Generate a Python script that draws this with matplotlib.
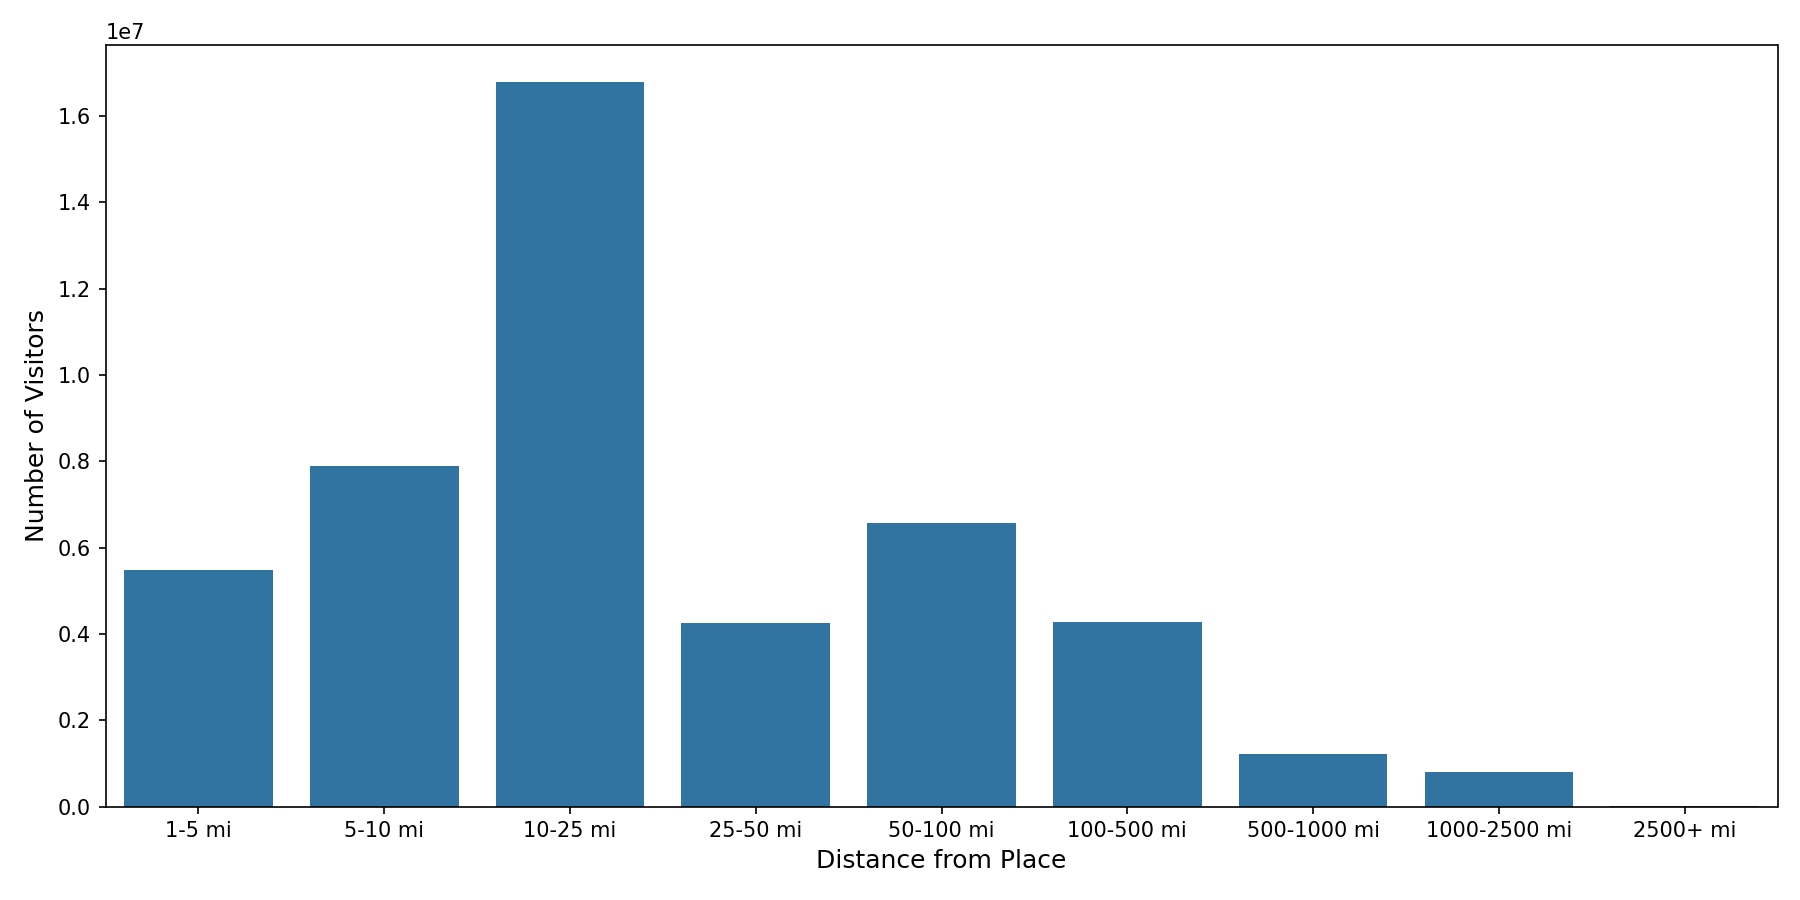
import matplotlib
matplotlib.use("Agg")
import matplotlib.pyplot as plt
import seaborn as sns
import pandas as pd

distance_bins = ["1-5 mi", "5-10 mi", "10-25 mi", "25-50 mi", "50-100 mi",
                 "100-500 mi", "500-1000 mi", "1000-2500 mi", "2500+ mi"]
visitors = [5.48e6, 7.88e6, 16.8e6, 4.26e6, 6.58e6, 4.28e6, 1.22e6, 0.80e6, 0.02e6]

df = pd.DataFrame({"distance": distance_bins, "visitors": visitors})

fig, ax = plt.subplots(figsize=(12, 6))
sns.barplot(data=df, x="distance", y="visitors", ax=ax)
ax.set_xlabel("Distance from Place", fontsize=12)
ax.set_ylabel("Number of Visitors", fontsize=12)
plt.tight_layout()
plt.savefig("out.png", dpi=150)
